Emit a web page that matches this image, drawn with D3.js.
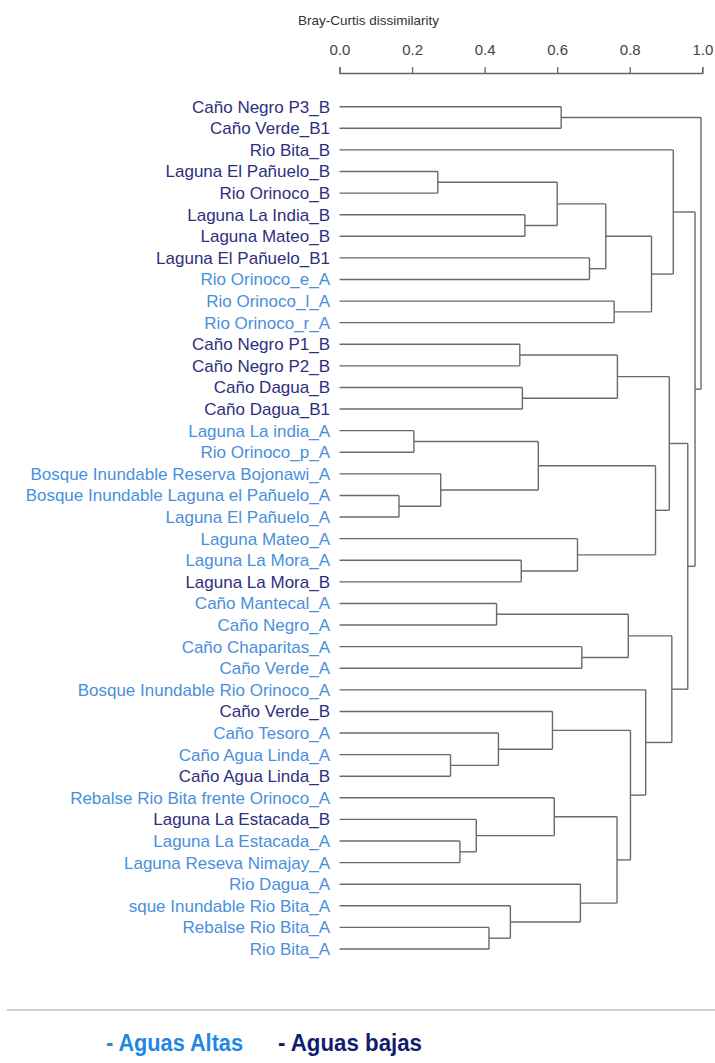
<!DOCTYPE html>
<html>
<head>
<meta charset="utf-8">
<script src="https://cdn.jsdelivr.net/npm/d3@7"></script>
<style>
  html, body { margin: 0; padding: 0; background: #fff; }
  svg { display: block; }
</style>
</head>
<body>
<svg id="chart" width="715" height="1063"></svg>
<script>
// ---- data ----
const labels = [
  "Caño Negro P3_B", "Caño Verde_B1", "Rio Bita_B", "Laguna El Pañuelo_B", "Rio Orinoco_B",
  "Laguna La India_B", "Laguna Mateo_B", "Laguna El Pañuelo_B1", "Rio Orinoco_e_A", "Rio Orinoco_l_A",
  "Rio Orinoco_r_A", "Caño Negro P1_B", "Caño Negro P2_B", "Caño Dagua_B", "Caño Dagua_B1",
  "Laguna La india_A", "Rio Orinoco_p_A", "Bosque Inundable Reserva Bojonawi_A",
  "Bosque Inundable Laguna el Pañuelo_A", "Laguna El Pañuelo_A", "Laguna Mateo_A",
  "Laguna La Mora_A", "Laguna La Mora_B", "Caño Mantecal_A", "Caño Negro_A", "Caño Chaparitas_A",
  "Caño Verde_A", "Bosque Inundable Rio Orinoco_A", "Caño Verde_B", "Caño Tesoro_A",
  "Caño Agua Linda_A", "Caño Agua Linda_B", "Rebalse Rio Bita frente Orinoco_A",
  "Laguna La Estacada_B", "Laguna La Estacada_A", "Laguna Reseva Nimajay_A", "Rio Dagua_A",
  "sque Inundable Rio Bita_A", "Rebalse Rio Bita_A", "Rio Bita_A"
];
const season = [
  "B","B","B","B","B","B","B","B","A","A",
  "A","B","B","B","B","A","A","A","A","A",
  "A","A","B","A","A","A","A","A","B","A",
  "A","B","A","B","A","A","A","A","A","A"
];
// hclust-style merges: negative = leaf (1-based), positive = earlier merge (1-based)
const merges = [
  [-4,-5],[-6,-7],[1,2],[-8,-9],[3,4],[-10,-11],[5,6],[-3,7],[-1,-2],
  [-12,-13],[-14,-15],[10,11],[-16,-17],[-19,-20],[-18,14],[13,15],[-22,-23],[-21,17],[16,18],[12,19],
  [-24,-25],[-26,-27],[21,22],[-31,-32],[-30,24],[-29,25],[-35,-36],[-34,27],[-33,28],
  [-39,-40],[-38,30],[-37,31],[29,32],[26,33],[-28,34],[23,35],[20,36],[8,37],[9,38]
];
const heights = [
  0.271,0.511,0.600,0.689,0.734,0.757,0.860,0.920,0.611,
  0.497,0.504,0.766,0.205,0.164,0.279,0.548,0.501,0.656,0.871,0.909,
  0.433,0.668,0.796,0.306,0.438,0.587,0.332,0.377,0.592,
  0.412,0.471,0.664,0.765,0.802,0.844,0.916,0.960,0.980,0.9965
];
const axisTicks = [0, 0.2, 0.4, 0.6, 0.8, 1.0];
const legendItems = ["- Aguas Altas", "- Aguas bajas"];
const axisTitle = "Bray-Curtis dissimilarity";

// ---- build tree ----
const nodes = [];
function ref(r) {
  return r < 0 ? { name: labels[-r - 1], idx: -r - 1, height: 0 } : nodes[r - 1];
}
merges.forEach((m, i) => {
  nodes.push({ height: heights[i], children: [ref(m[0]), ref(m[1])] });
});
const root = d3.hierarchy(nodes[nodes.length - 1]);

// ---- scales ----
const svg = d3.select("#chart");
const font = "'Liberation Sans', Arial, Helvetica, sans-serif";
const x = d3.scaleLinear().domain([0, 1]).range([339.5, 702.3]);
const y = d3.scalePoint().domain(labels).range([106.7, 949]);
const color = d3.scaleOrdinal().domain(["A", "B"]).range(["#4a8fdc", "#2e2f7e"]);

// node y positions (midpoints)
root.eachAfter(n => {
  if (!n.children) n.yy = y(n.data.name);
  else n.yy = (n.children[0].yy + n.children[1].yy) / 2;
  n.xx = x(n.data.height);
});

// ---- axis ----
svg.append("text")
  .attr("x", 298).attr("y", 25)
  .attr("font-family", font).attr("font-size", 13.5).attr("fill", "#333")
  .text(axisTitle);

const axis = d3.axisTop(x).tickValues(axisTicks).tickFormat(d3.format(".1f"))
  .tickSize(6).tickPadding(12);
const ag = svg.append("g").attr("transform", "translate(0,73)").call(axis);
ag.selectAll("path, line").attr("stroke", "#666").attr("stroke-width", 1.3);
ag.selectAll("text").attr("font-family", font).attr("font-size", 15).attr("fill", "#444");

// ---- dendrogram links ----
const g = svg.append("g").attr("fill", "none").attr("stroke", "#6a6a6a").attr("stroke-width", 1.4);
root.descendants().forEach(n => {
  if (n.parent) {
    g.append("path").attr("d", `M${x(0) + (n.children ? n.xx - x(0) : 0)},${n.yy}H${n.parent.xx}`);
  }
  if (n.children) {
    g.append("path").attr("d", `M${n.xx},${n.children[0].yy}V${n.children[1].yy}`);
  }
});

// ---- labels ----
svg.append("g").selectAll("text").data(labels).join("text")
  .attr("x", 330).attr("y", d => y(d)).attr("dy", "0.35em")
  .attr("text-anchor", "end")
  .attr("font-family", font).attr("font-size", 17)
  .attr("fill", (d, i) => color(season[i]))
  .text(d => d);

// ---- legend ----
svg.append("line").attr("x1", 7).attr("x2", 715).attr("y1", 1010).attr("y2", 1010)
  .attr("stroke", "#cfcfcf").attr("stroke-width", 2);
const legendColor = d3.scaleOrdinal().domain(legendItems).range(["#1f87e3", "#121c70"]);
const legendX = d3.scaleOrdinal().domain(legendItems).range([106, 278]);
const legendW = d3.scaleOrdinal().domain(legendItems).range([137, 144]);
svg.append("g").selectAll("text").data(legendItems).join("text")
  .attr("x", d => legendX(d)).attr("y", 1051)
  .attr("font-family", font).attr("font-size", 23).attr("font-weight", "bold")
  .attr("textLength", d => legendW(d)).attr("lengthAdjust", "spacingAndGlyphs")
  .attr("fill", d => legendColor(d))
  .text(d => d);
</script>
</body>
</html>
